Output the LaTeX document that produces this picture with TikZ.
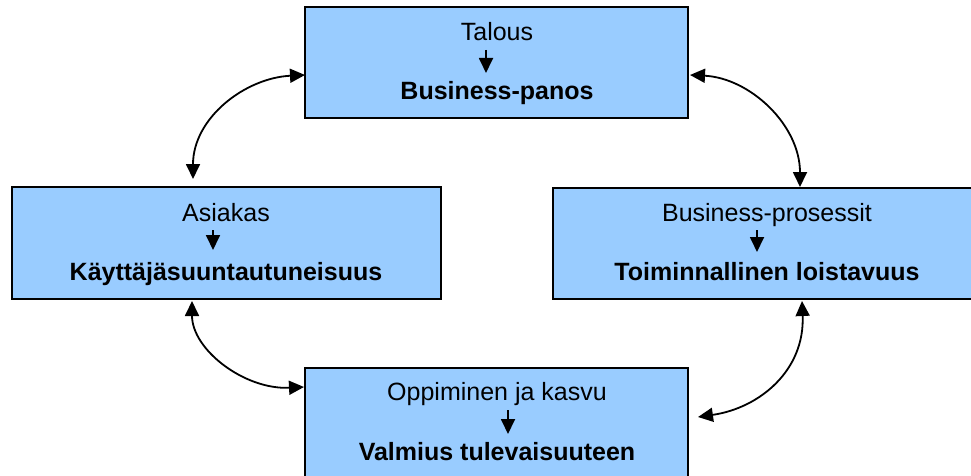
\documentclass[tikz,border=0pt]{standalone}
\usepackage{fontspec}
\setmainfont{Liberation Sans}
\usetikzlibrary{arrows.meta}
\definecolor{boxblue}{HTML}{99CCFF}
\begin{document}
\begin{tikzpicture}[x=1pt,y=-1pt,
  panel/.style={draw=black, line width=1.5pt, fill=boxblue, inner sep=0pt},
  plain/.style={font=\fontsize{25}{30}\selectfont, anchor=base, inner sep=0pt},
  strong/.style={font=\fontsize{25}{30}\selectfont\bfseries, anchor=base, inner sep=0pt},
  flow/.style={line width=1.8pt, -{Triangle[length=15pt,width=14pt]}},
  link/.style={line width=1.8pt, {Triangle[length=15pt,width=14pt]}-{Triangle[length=15pt,width=14pt]}}]
\useasboundingbox (0,0) rectangle (971,476);
\clip (0,0) rectangle (971,476);

% the four perspective panels
\node[panel, minimum width=383pt, minimum height=111pt] (fin) at (496.5,62.5) {};
\node[panel, minimum width=429pt, minimum height=112pt] (cust) at (226.5,243) {};
\node[panel, minimum width=428pt, minimum height=111pt] (proc) at (767,243.5) {};
\node[panel, minimum width=383pt, minimum height=122pt] (learn) at (496.5,429) {};

% panel texts
\node[plain]  (finA)   at (497,41)  {Talous};
\node[strong] (finB)   at (497,100) {Business-panos};
\node[plain]  (custA)  at (226,221) {Asiakas};
\node[strong] (custB)  at (226,280) {Käyttäjäsuuntautuneisuus};
\node[plain]  (procA)  at (767,221) {Business-prosessit};
\node[strong] (procB)  at (767,280) {Toiminnallinen loistavuus};
\node[plain]  (learnA) at (497,400) {Oppiminen ja kasvu};
\node[strong] (learnB) at (497,460) {Valmius tulevaisuuteen};

% small arrows inside the panels
\coordinate (f1) at (486,50);  \coordinate (f2) at (486,73);
\coordinate (c1) at (213,230); \coordinate (c2) at (213,250);
\coordinate (p1) at (757,230); \coordinate (p2) at (757,252);
\coordinate (l1) at (508,410); \coordinate (l2) at (508,434);
\draw[flow] (f1) -- (f2);
\draw[flow] (c1) -- (c2);
\draw[flow] (p1) -- (p2);
\draw[flow] (l1) -- (l2);

% curved two-way links between panels
\coordinate (fl) at (305,75);  \coordinate (lf) at (193,179);
\coordinate (fr) at (690,75);  \coordinate (rt) at (800,187);
\coordinate (lb) at (192,301); \coordinate (bl) at (304,387);
\coordinate (rb) at (802,301); \coordinate (br) at (698,417);
\draw[link] (lf) .. controls (193,118) and (245,78) .. (fl);
\draw[link] (fr) .. controls (750,78) and (800,125) .. (rt);
\draw[link] (lb) .. controls (192,350) and (245,390) .. (bl);
\draw[link] (rb) .. controls (805,370) and (760,408) .. (br);
\end{tikzpicture}
\end{document}
